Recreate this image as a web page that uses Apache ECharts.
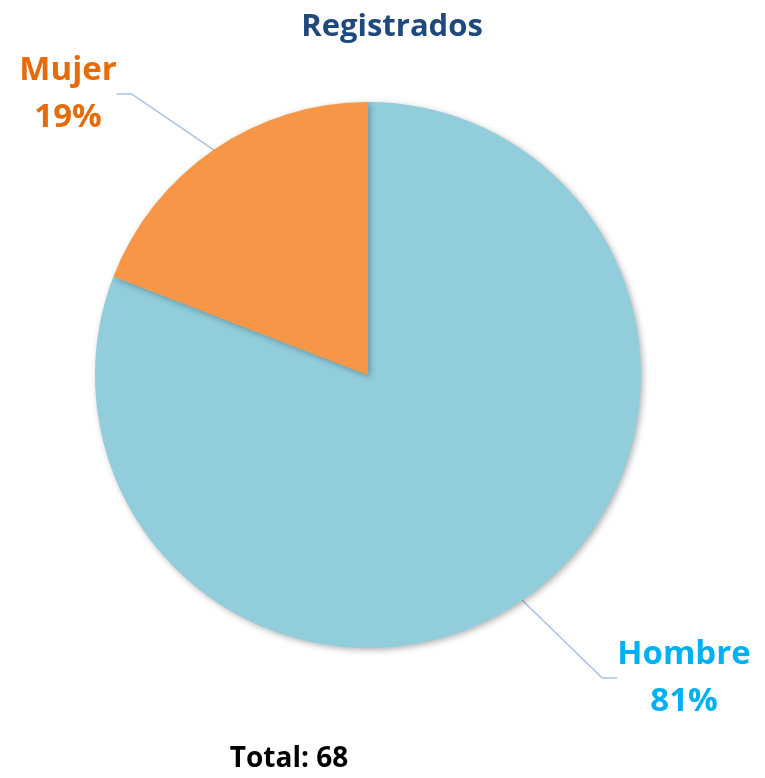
<!DOCTYPE html>
<html>
<head>
<meta charset="utf-8">
<script src="https://cdn.jsdelivr.net/npm/echarts@6/dist/echarts.min.js"></script>
<style>
  html, body { margin: 0; padding: 0; background: #fff; }
  #chart { width: 765px; height: 778px; }
</style>
</head>
<body>
<div id="chart"></div>
<script>
const categories = ["Hombre", "Mujer"];
const counts = [55, 13];
const percents = [81, 19];
const totalLabel = "Total: 68";

const sliceColors = ["#92CDDC", "#F79646"];
const labelColors = ["#00B0F0", "#E46C0A"];
// label centres (px) picked to match the original layout
const labelPos = [
  { x: 684, y: 678 },
  { x: 68, y: 94 },
];

const chart = echarts.init(document.getElementById("chart"));

chart.setOption({
  animation: false,
  title: [
    {
      text: "Registrados",
      left: 387,
      top: 7,
      textAlign: "center",
      textStyle: { fontFamily: "Open Sans", fontSize: 31, fontWeight: "bold", color: "#1F497D" },
    },
    {
      text: totalLabel,
      left: 284,
      top: 740,
      textAlign: "center",
      textStyle: { fontFamily: "Open Sans", fontSize: 28, fontWeight: "bold", color: "#000" },
    },
  ],
  series: [
    {
      type: "pie",
      center: [368, 375],
      radius: 273,
      startAngle: 90,
      clockwise: true,
      data: categories.map((name, i) => ({
        name,
        value: counts[i],
        itemStyle: { color: sliceColors[i] },
        label: { color: labelColors[i] },
      })),
      itemStyle: {
        shadowBlur: 6,
        shadowOffsetX: 2,
        shadowOffsetY: 2,
        shadowColor: "rgba(0,0,0,0.3)",
      },
      label: {
        show: true,
        formatter: (p) => p.name + "\n" + percents[p.dataIndex] + "%",
        fontFamily: "Open Sans",
        fontSize: 33,
        fontWeight: "bold",
        lineHeight: 47,
        align: "center",
      },
      labelLine: {
        show: true,
        length: 30,
        length2: 15,
        lineStyle: { color: "#A7C2E6", width: 1.5 },
      },
      labelLayout: (params) => ({
        x: labelPos[params.dataIndex].x,
        y: labelPos[params.dataIndex].y,
        align: "center",
        verticalAlign: "middle",
      }),
      emphasis: { disabled: true },
    },
  ],
});
</script>
</body>
</html>
